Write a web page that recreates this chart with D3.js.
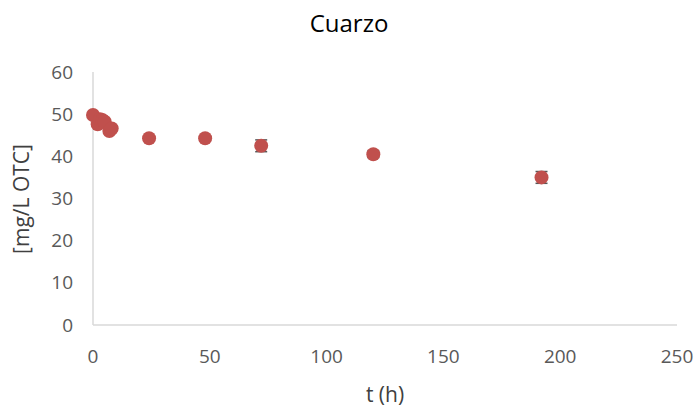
<!DOCTYPE html>
<html>
<head>
<meta charset="utf-8">
<script src="https://cdn.jsdelivr.net/npm/d3@7"></script>
<style>
  body { margin: 0; background: #fff; }
  svg { font-family: "Open Sans", "Noto Sans", sans-serif; }
</style>
</head>
<body>
<svg width="697" height="408"></svg>
<script>
// sampling times (h), OTC concentration and error
var times = [0, 2, 3, 4, 5, 7, 8, 24, 48, 72, 120, 192];
var conc = [49.8, 47.6, 48.8, 48.6, 48.2, 46.0, 46.6, 44.3, 44.3, 42.5, 40.5, 35.0];
var errs = [0.5, 0.5, 0.5, 0.5, 0.5, 0.5, 0.5, 0.4, 0.6, 1.4, 0.8, 1.4];
var xTicks = [0, 50, 100, 150, 200, 250];
var yTicks = [0, 10, 20, 30, 40, 50, 60];

var svg = d3.select("svg");

var x = d3.scaleLinear().domain([0, 250]).range([93, 677]);
var y = d3.scaleLinear().domain([0, 60]).range([325, 72]);

// axis lines
svg.append("line")
  .attr("x1", x(0)).attr("x2", x(250))
  .attr("y1", y(0)).attr("y2", y(0))
  .attr("stroke", "#d9d9d9").attr("stroke-width", 1.5);
svg.append("line")
  .attr("x1", x(0)).attr("x2", x(0))
  .attr("y1", y(0)).attr("y2", y(60))
  .attr("stroke", "#d9d9d9").attr("stroke-width", 1.5);

// tick labels
svg.selectAll("text.xt")
  .data(xTicks)
  .enter()
  .append("text")
  .attr("class", "xt")
  .attr("x", d => x(d))
  .attr("y", 363)
  .attr("text-anchor", "middle")
  .attr("font-size", 19)
  .attr("fill", "#595959")
  .text(d => d);

svg.selectAll("text.yt")
  .data(yTicks)
  .enter()
  .append("text")
  .attr("class", "yt")
  .attr("x", 73)
  .attr("y", d => y(d))
  .attr("dy", "0.35em")
  .attr("text-anchor", "end")
  .attr("font-size", 19)
  .attr("fill", "#595959")
  .text(d => d);

// title and axis titles
svg.append("text")
  .attr("x", 349).attr("y", 32)
  .attr("text-anchor", "middle")
  .attr("font-size", 24)
  .attr("fill", "#000")
  .text("Cuarzo");

svg.append("text")
  .attr("x", 385).attr("y", 402)
  .attr("text-anchor", "middle")
  .attr("font-size", 21)
  .attr("fill", "#404040")
  .text("t (h)");

svg.append("text")
  .attr("transform", "translate(29,199) rotate(-90)")
  .attr("text-anchor", "middle")
  .attr("font-size", 21)
  .attr("fill", "#404040")
  .text("[mg/L OTC]");

var pts = times.map((t, i) => ({ t: t, c: conc[i], e: errs[i] }));

// error bars
var eb = svg.append("g").attr("stroke", "#595959").attr("stroke-width", 1.5);
pts.forEach(function (d) {
  eb.append("line")
    .attr("x1", x(d.t)).attr("x2", x(d.t))
    .attr("y1", y(d.c - d.e)).attr("y2", y(d.c + d.e));
  [d.c - d.e, d.c + d.e].forEach(function (v) {
    eb.append("line")
      .attr("x1", x(d.t) - 6).attr("x2", x(d.t) + 6)
      .attr("y1", y(v)).attr("y2", y(v));
  });
});

// markers
svg.selectAll("circle")
  .data(pts)
  .enter()
  .append("circle")
  .attr("cx", d => x(d.t))
  .attr("cy", d => y(d.c))
  .attr("r", 7)
  .attr("fill", "#c0504d");
</script>
</body>
</html>
